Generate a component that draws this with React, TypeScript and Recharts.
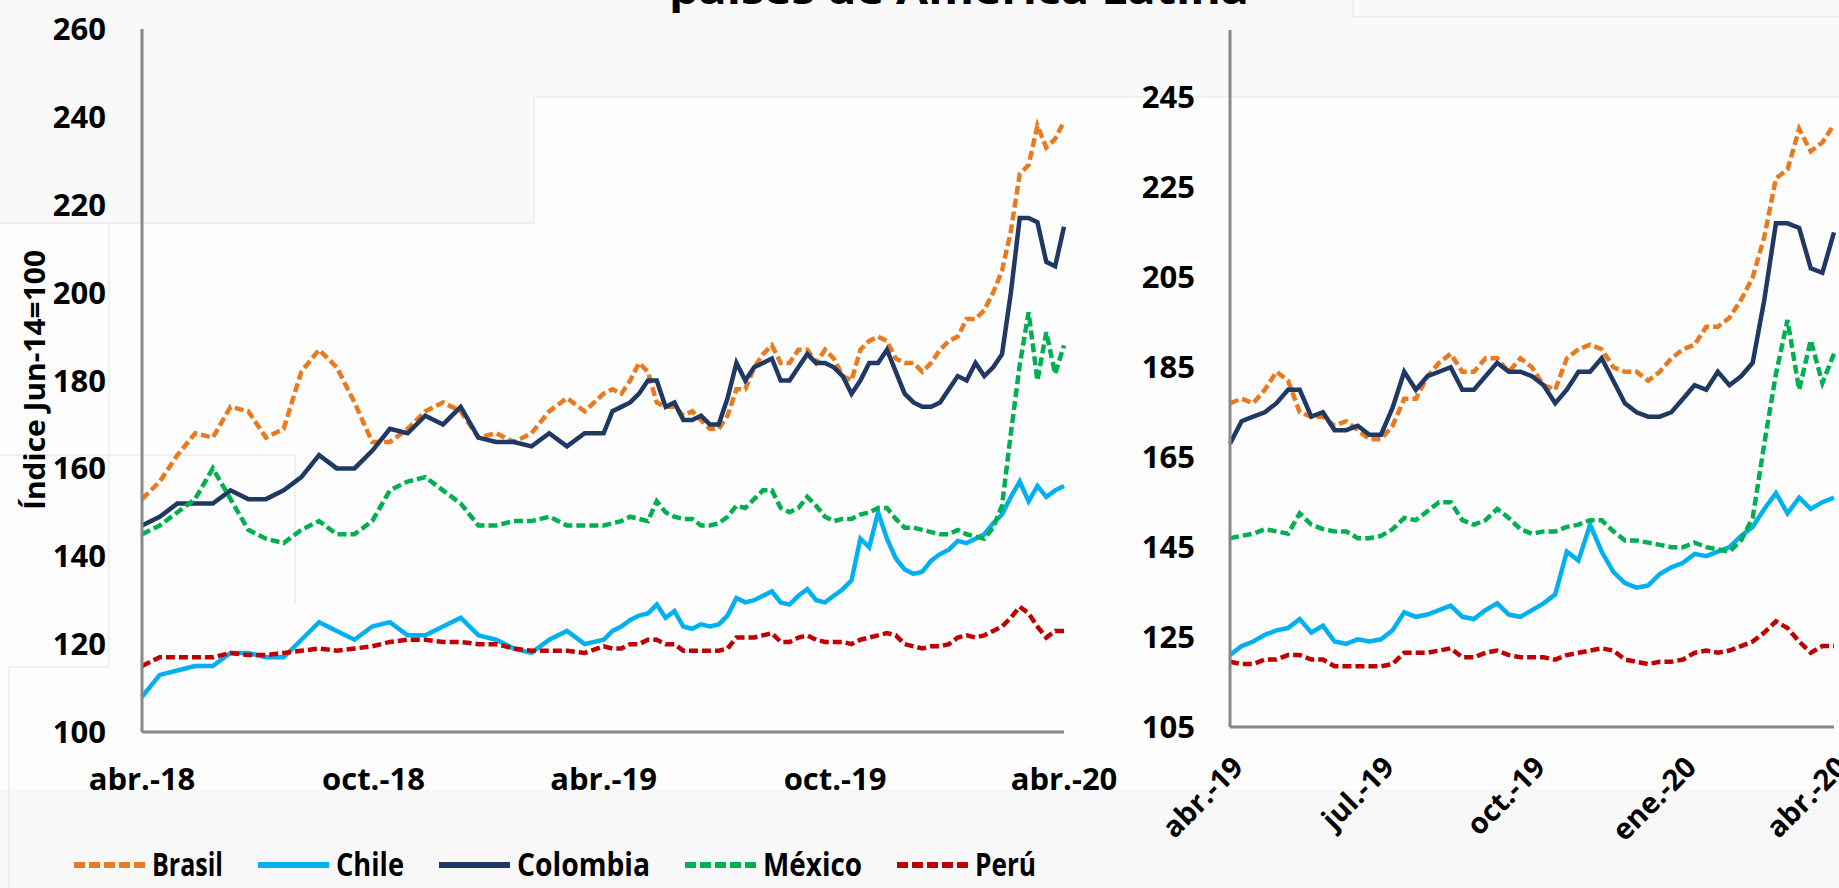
import React from 'react';
import { LineChart, Line, XAxis, YAxis, Legend } from 'recharts';

// quincenal hasta abr-19, semanal después
const fechas = [
  '2018-04-17', '2018-05-01', '2018-05-15', '2018-05-29', '2018-06-12', '2018-06-26',
  '2018-07-10', '2018-07-24', '2018-08-07', '2018-08-21', '2018-09-04', '2018-09-18',
  '2018-10-02', '2018-10-16', '2018-10-30', '2018-11-13', '2018-11-27', '2018-12-11',
  '2018-12-25', '2019-01-08', '2019-01-22', '2019-02-05', '2019-02-19', '2019-03-05',
  '2019-03-19', '2019-04-02',
  '2019-04-17', '2019-04-24', '2019-05-01', '2019-05-08', '2019-05-15', '2019-05-22',
  '2019-05-29', '2019-06-05', '2019-06-12', '2019-06-19', '2019-06-26', '2019-07-03',
  '2019-07-10', '2019-07-17', '2019-07-24', '2019-07-31', '2019-08-07', '2019-08-14',
  '2019-08-21', '2019-08-28', '2019-09-04', '2019-09-11', '2019-09-18', '2019-09-25',
  '2019-10-02', '2019-10-09', '2019-10-16', '2019-10-23', '2019-10-30', '2019-11-06',
  '2019-11-13', '2019-11-20', '2019-11-27', '2019-12-04', '2019-12-11', '2019-12-18',
  '2019-12-25', '2020-01-01', '2020-01-08', '2020-01-15', '2020-01-22', '2020-01-29',
  '2020-02-05', '2020-02-12', '2020-02-19', '2020-02-26', '2020-03-04', '2020-03-11',
  '2020-03-18', '2020-03-25', '2020-04-01', '2020-04-08', '2020-04-15',
];

const brasil = [
  153, 157, 163, 168, 167, 174, 173, 167, 169, 182, 187, 183, 175, 166, 166, 169, 173, 175,
  173, 167, 168, 166, 168, 173, 176, 173,
  177, 178, 177, 180, 184, 182, 175, 174, 174, 172, 173, 171, 169, 169, 172, 178, 178, 183,
  186, 188, 184, 184, 187, 187, 184, 187, 185, 181, 180, 187, 189, 190, 189, 185, 184, 184,
  182, 184, 187, 189, 190, 194, 194, 196, 200, 205, 214, 227, 229, 238, 233, 235, 239,
];

const chile = [
  108, 113, 114, 115, 115, 118, 118, 117, 117, 121, 125, 123, 121, 124, 125, 122, 122, 124,
  126, 122, 121, 119, 118, 121, 123, 120,
  121, 123, 124, 125.5, 126.5, 127, 129, 126, 127.5, 124, 123.5, 124.5, 124, 124.5, 126.5,
  130.5, 129.5, 130, 131, 132, 129.5, 129, 131, 132.5, 130, 129.5, 131, 132.5, 134.5, 144,
  142, 150, 144, 139.5, 137, 136, 136.5, 139, 140.5, 141.5, 143.5, 143, 144, 145, 147.5,
  149.5, 153.5, 157, 152.5, 156, 153.5, 155, 156,
];

const colombia = [
  147, 149, 152, 152, 152, 155, 153, 153, 155, 158, 163, 160, 160, 164, 169, 168, 172, 170,
  174, 167, 166, 166, 165, 168, 165, 168,
  168, 173, 174, 175, 177, 180, 180, 174, 175, 171, 171, 172, 170, 170, 176, 184, 180, 183,
  184, 185, 180, 180, 183, 186, 184, 184, 183, 181, 177, 180, 184, 184, 187, 182, 177, 175,
  174, 174, 175, 178, 181, 180, 184, 181, 183, 186, 200, 217, 217, 216, 207, 206, 215,
];

const mexico = [
  145, 147, 150, 153, 160, 153, 146, 144, 143, 146, 148, 145, 145, 148, 155, 157, 158, 155,
  152, 147, 147, 148, 148, 149, 147, 147,
  147, 147.5, 148, 149, 148.5, 148, 152.5, 150, 149, 148.5, 148.5, 147, 147, 147.5, 149,
  151.5, 151, 153, 155, 155, 151, 150, 151, 153.5, 151.5, 149, 148, 148.5, 148.5, 149.5,
  150, 151, 151, 148.5, 146.5, 146.5, 146, 145.5, 145, 145, 146, 145, 144.5, 144, 146.5,
  151.5, 168, 183.5, 195.5, 180, 191, 181.5, 188,
];

const peru = [
  115, 117, 117, 117, 117, 118, 117.5, 117.5, 118, 118.5, 119, 118.5, 119, 119.5, 120.5,
  121, 121, 120.5, 120.5, 120, 120, 119, 118.5, 118.5, 118.5, 118,
  119.5, 119, 119, 120, 120, 121, 121, 120, 120, 118.5, 118.5, 118.5, 118.5, 118.5, 119,
  121.5, 121.5, 121.5, 122, 122.5, 120.5, 120.5, 121.5, 122, 121, 120.5, 120.5, 120.5, 120,
  121, 121.5, 122, 122.5, 122, 120, 119.5, 119, 119.5, 119.5, 120, 121.5, 122, 121.5, 122,
  123, 124, 126, 128.5, 127, 124, 121.5, 123, 123,
];

const ticksIzq = ['2018-04-17', '2018-10-17', '2019-04-17', '2019-10-17', '2020-04-15'];
const etiquetasIzq = ['abr.-18', 'oct.-18', 'abr.-19', 'oct.-19', 'abr.-20'];
const ticksDer = ['2019-04-17', '2019-07-17', '2019-10-16', '2020-01-15', '2020-04-15'];
const etiquetasDer = ['abr.-19', 'jul.-19', 'oct.-19', 'ene.-20', 'abr.-20'];
const yTicksIzq = [100, 120, 140, 160, 180, 200, 220, 240, 260];
const yTicksDer = [105, 125, 145, 165, 185, 205, 225, 245];

const FUENTE = "'Open Sans', 'Noto Sans', sans-serif";

const series = [
  { key: 'brasil', nombre: 'Brasil', color: '#E97A1F', dash: true, ancho: 71 },
  { key: 'chile', nombre: 'Chile', color: '#00B0F0', dash: false, ancho: 68 },
  { key: 'colombia', nombre: 'Colombia', color: '#1F3864', dash: false, ancho: 133 },
  { key: 'mexico', nombre: 'México', color: '#00B050', dash: true, ancho: 99 },
  { key: 'peru', nombre: 'Perú', color: '#C00000', dash: true, ancho: 61 },
];

const dia = (f: string) => Math.round((Date.parse(f) - Date.parse(fechas[0])) / 86400000);

const datos = fechas.map((f, i) => ({
  d: dia(f),
  brasil: brasil[i],
  chile: chile[i],
  colombia: colombia[i],
  mexico: mexico[i],
  peru: peru[i],
}));
const datosDer = datos.filter((r) => r.d >= dia(ticksDer[0]));

const tIzq = ticksIzq.map(dia);
const tDer = ticksDer.map(dia);

const tickStyle = { fill: '#000', fontSize: 31, fontWeight: 700, fontFamily: FUENTE };

const EtiquetaY = () => (
  <text
    x={45}
    y={380}
    transform="rotate(-90 45 380)"
    textAnchor="middle"
    fontSize={28}
    fontWeight={700}
    fontFamily={FUENTE}
    fill="#000"
    textLength={260}
    lengthAdjust="spacingAndGlyphs"
  >
    Índice Jun-14=100
  </text>
);

const TickRotado = (props: any) => {
  const { x, y, payload } = props;
  const px = x + 15;
  const py = y + 42;
  return (
    <text
      x={px}
      y={py}
      transform={`rotate(-45 ${px} ${py})`}
      textAnchor="end"
      fontSize={29}
      fontWeight={700}
      fontFamily={FUENTE}
      fill="#000"
    >
      {etiquetasDer[tDer.indexOf(payload.value)]}
    </text>
  );
};

const Leyenda = () => {
  let x = 74;
  return (
    <svg width={1140} height={56} style={{ display: 'block' }}>
      {series.map((s) => {
        const x0 = x;
        x += 78 + s.ancho + 35;
        return (
          <g key={s.key}>
            <line
              x1={x0}
              x2={x0 + 71}
              y1={33}
              y2={33}
              stroke={s.color}
              strokeWidth={6}
              strokeDasharray={s.dash ? '11 4' : undefined}
            />
            <text
              x={x0 + 78}
              y={44}
              fontSize={32}
              fontWeight={700}
              fontFamily={FUENTE}
              fill="#000"
              textLength={s.ancho}
              lengthAdjust="spacingAndGlyphs"
            >
              {s.nombre}
            </text>
          </g>
        );
      })}
    </svg>
  );
};

const lineas = () =>
  series.map((s) => (
    <Line
      key={s.key}
      type="linear"
      dataKey={s.key}
      name={s.nombre}
      stroke={s.color}
      strokeWidth={4.5}
      strokeDasharray={s.dash ? '9 4' : undefined}
      dot={false}
      activeDot={false}
      isAnimationActive={false}
    />
  ));

export default function App() {
  return (
    <div
      style={{
        position: 'absolute',
        left: 0,
        top: 0,
        width: 1839,
        height: 888,
        overflow: 'hidden',
        background: '#fdfdfd',
        fontFamily: FUENTE,
      }}
    >
      <svg width={1839} height={888} style={{ position: 'absolute', left: 0, top: 0 }}>
        <rect x={0} y={790} width={1839} height={98} fill="#f8f8f8" />
        <rect x={534} y={0} width={1305} height={97} fill="#f9f9f9" />
        <rect x={0} y={0} width={534} height={223} fill="#f9f9f9" />
        <path
          d="M534 97 H1839 M534 97 V223 H0 M1353 0 V17 H1839 M0 455 H295 V605 M109 223 V667 H9 V888"
          stroke="#ececec"
          strokeWidth={1.5}
          fill="none"
        />
      </svg>

      <div style={{ position: 'absolute', left: 0, top: 0 }}>
        <LineChart width={1140} height={888} data={datos} margin={{ top: 29, right: 76, bottom: 96, left: 0 }}>
          <XAxis
            type="number"
            dataKey="d"
            domain={[tIzq[0], tIzq[tIzq.length - 1]]}
            ticks={tIzq}
            interval={0}
            tickFormatter={(v: number) => etiquetasIzq[tIzq.indexOf(v)]}
            height={60}
            tickLine={false}
            tickSize={0}
            tickMargin={36}
            axisLine={{ stroke: '#888888', strokeWidth: 3 }}
            tick={tickStyle}
          />
          <YAxis
            domain={[100, 260]}
            ticks={yTicksIzq}
            interval={0}
            width={142}
            tickLine={false}
            tickSize={0}
            tickMargin={36}
            axisLine={{ stroke: '#888888', strokeWidth: 3 }}
            tick={tickStyle}
            label={<EtiquetaY />}
          />
          {lineas()}
          <Legend
            layout="vertical"
            align="center"
            verticalAlign="middle"
            content={() => <Leyenda />}
            wrapperStyle={{ left: 0, top: 832, width: 1140, height: 56 }}
          />
        </LineChart>
      </div>

      <div style={{ position: 'absolute', left: 1100, top: 0 }}>
        <LineChart width={739} height={888} data={datosDer} margin={{ top: 30, right: 5, bottom: 41, left: 0 }}>
          <XAxis
            type="number"
            dataKey="d"
            domain={[tDer[0], tDer[tDer.length - 1]]}
            ticks={tDer}
            interval={0}
            height={120}
            tickLine={false}
            tickSize={0}
            tickMargin={0}
            axisLine={{ stroke: '#888888', strokeWidth: 3 }}
            tick={<TickRotado />}
          />
          <YAxis
            domain={[105, 260]}
            ticks={yTicksDer}
            interval={0}
            width={130}
            tickLine={false}
            tickSize={0}
            tickMargin={35}
            axisLine={{ stroke: '#888888', strokeWidth: 3 }}
            tick={tickStyle}
          />
          {lineas()}
        </LineChart>
      </div>

      <svg width={1839} height={30} style={{ position: 'absolute', left: 0, top: 0 }}>
        <text
          x={669}
          y={4}
          fontSize={40}
          fontWeight={700}
          fontFamily={FUENTE}
          fill="#000"
          textLength={580}
          lengthAdjust="spacingAndGlyphs"
        >
          países de América Latina
        </text>
      </svg>
    </div>
  );
}
